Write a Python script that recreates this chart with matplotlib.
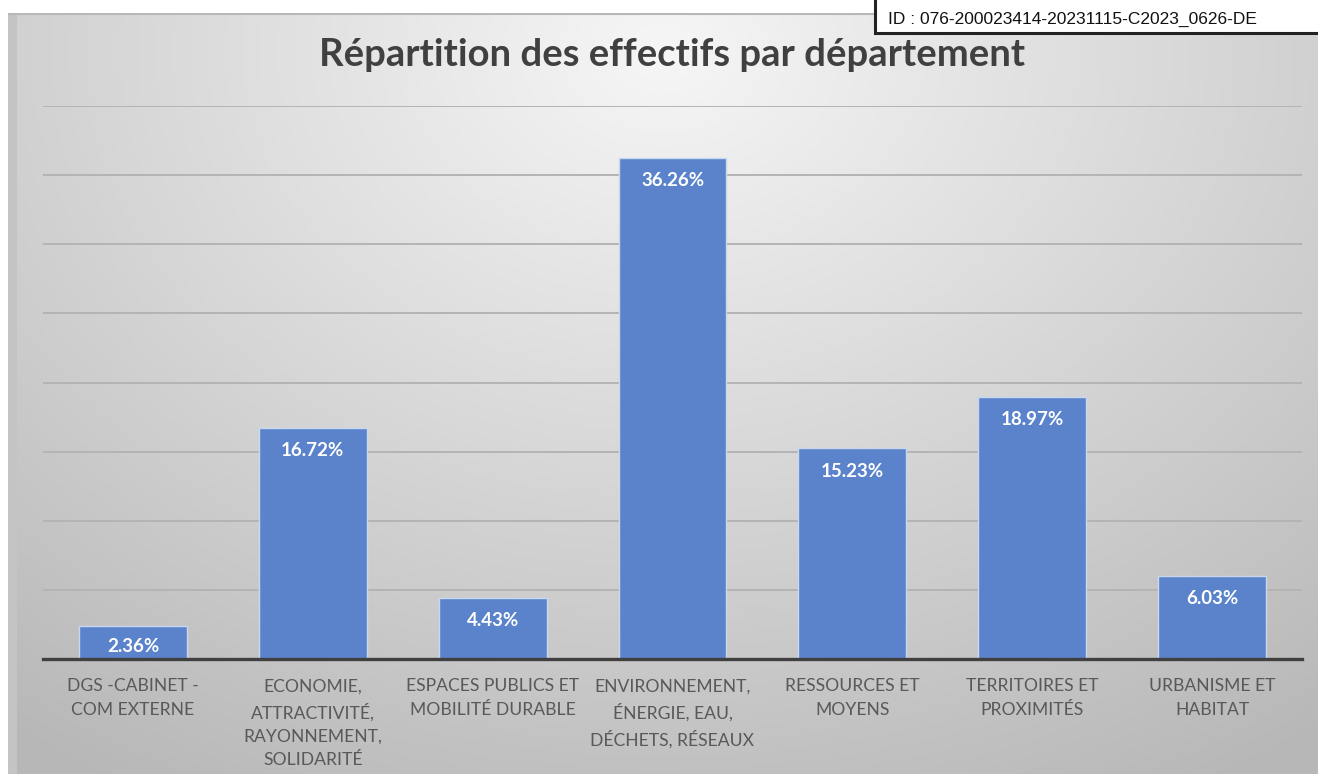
import numpy as np
import matplotlib
matplotlib.use("Agg")
import matplotlib.pyplot as plt
from matplotlib.patches import Rectangle

categories = ["DGS -CABINET -\nCOM EXTERNE",
              "ECONOMIE,\nATTRACTIVITÉ,\nRAYONNEMENT,\nSOLIDARITÉ",
              "ESPACES PUBLICS ET\nMOBILITÉ DURABLE",
              "ENVIRONNEMENT,\nÉNERGIE, EAU,\nDÉCHETS, RÉSEAUX",
              "RESSOURCES ET\nMOYENS",
              "TERRITOIRES ET\nPROXIMITÉS",
              "URBANISME ET\nHABITAT"]
values = [2.36, 16.72, 4.43, 36.26, 15.23, 18.97, 6.03]
title = "Répartition des effectifs par département"
stamp = "ID : 076-200023414-20231115-C2023_0626-DE"

W, H = 1318, 774
fig = plt.figure(figsize=(W / 100, H / 100), dpi=100)
fig.patch.set_facecolor("white")

# gradient background of the chart area
bg = fig.add_axes([8 / W, 0, (W - 8) / W, (H - 13) / H], zorder=0)
xx, yy = np.meshgrid(np.linspace(0, 1, 400), np.linspace(0, 1, 240))
r = np.sqrt(((xx - 0.5) / 0.75) ** 2 + ((yy - 0.05) / 1.0) ** 2)
shade = np.clip(0.965 - 0.22 * r, 0.72, 1)
bg.imshow(np.dstack([shade] * 3), aspect="auto", extent=(0, 1, 1, 0))
bg.add_patch(Rectangle((0, 0), 0.007, 1, color="#c4c4c4", lw=0))
bg.axhline(0.001, color="#b8b8b8", lw=1.5)
bg.set_xlim(0, 1)
bg.set_ylim(1, 0)
bg.axis("off")

ax = fig.add_axes([43 / W, (H - 659) / H, (1302 - 43) / W, (659 - 106) / H], zorder=1)
ax.patch.set_alpha(0)
x = np.arange(len(values))
bars = ax.bar(x, values, width=0.6, color="#5b83cb", edgecolor="#c8d8f0", linewidth=1, zorder=3)
ax.set_xlim(-0.5, len(values) - 0.5)
ax.set_ylim(0, 40)
ax.set_yticks(np.arange(0, 41, 5))
ax.yaxis.grid(True, color="#b4b4b4", linewidth=1.4, zorder=0)
ax.tick_params(axis="y", left=False, labelleft=False)
ax.tick_params(axis="x", length=0, pad=14)
ax.set_xticks(x)
ax.set_xticklabels(categories, fontsize=12.6, color="#595959", family="Lato",
                   linespacing=1.57, va="top")
for s in ["left", "right", "top"]:
    ax.spines[s].set_visible(False)
ax.spines["bottom"].set_color("#404040")
ax.spines["bottom"].set_linewidth(2.4)
ax.spines["bottom"].set_zorder(4)

# labels sit inside the bar end; small bars get them centred
for xi, v in zip(x, values):
    ax.text(xi, v - min(1.66, v / 2 + 0.25), f"{v:.2f}%", ha="center", va="center",
            color="white", fontsize=13.5, fontweight="bold", family="Lato", zorder=5)

fig.text(672 / W, 1 - 55 / H, title, ha="center", va="center", fontsize=27.5,
         fontweight="bold", color="#404040", family="Lato")

# stamp box
fig.patches.append(Rectangle((875 / W, 1 - 33 / H), 0.4, 0.1, transform=fig.transFigure,
                             facecolor="white", edgecolor="#222222", lw=2.2, zorder=10))
fig.text(888 / W, 1 - 19 / H, stamp, ha="left", va="center", fontsize=12.5,
         family="Liberation Sans", color="#111111", zorder=11)

fig.savefig("out.png", dpi=100)
